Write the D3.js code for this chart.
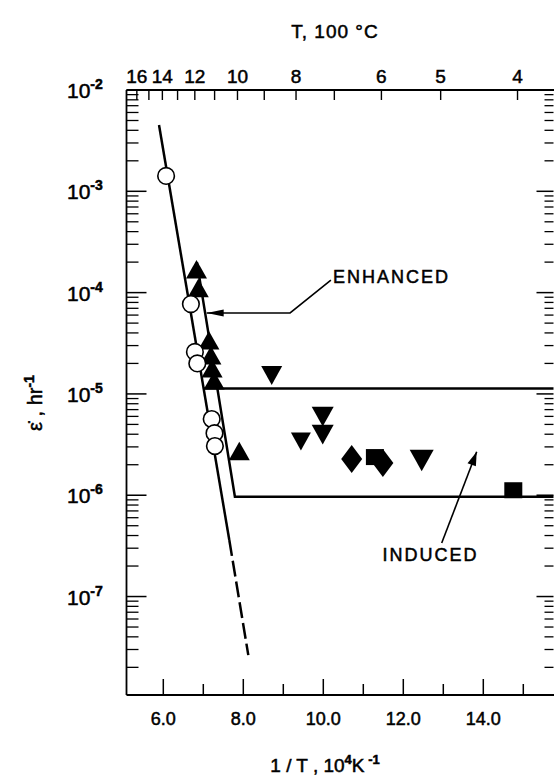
<!DOCTYPE html>
<html><head><meta charset="utf-8">
<script src="https://cdn.jsdelivr.net/npm/d3@7"></script>
<style>
html,body{margin:0;padding:0;background:#fff;}
svg text{font-family:"Liberation Sans",Arial,sans-serif;fill:#000;stroke:#000;stroke-width:0.5px;}
</style></head>
<body><div id="chart"></div>
<script>
// ---- data ----
const bottomMajorTicks = [6, 8, 10, 12, 14];
const bottomMinorTicks = [7, 9, 11, 13, 15];
const topTempTicks = [4, 5, 6, 7, 8, 9, 10, 11, 12, 13, 14, 15, 16];   // T, 100 °C
const topTempLabels = [16, 14, 12, 10, 8, 6, 5, 4];
const yDecades = [-2, -3, -4, -5, -6, -7];

// open circles
const circleX = [6.07, 6.69, 6.79, 6.85, 7.21, 7.28, 7.29];
const circleY = [1.42e-3, 7.7e-5, 2.6e-5, 2.0e-5, 5.65e-6, 4.1e-6, 3.06e-6];
// filled up-triangles
const upTriX = [6.83, 6.875, 7.14, 7.19, 7.22, 7.27, 7.90];
const upTriY = [1.67e-4, 1.09e-4, 3.33e-5, 2.37e-5, 1.76e-5, 1.34e-5, 2.68e-6];
// filled down-triangles
const downTriX = [8.71, 9.44, 9.985, 9.985, 12.46];
const downTriY = [1.54e-5, 3.43e-6, 6.05e-6, 4.02e-6, 2.23e-6];
// filled diamonds
const diamondX = [10.71, 11.49];
const diamondY = [2.28e-6, 2.08e-6];
// filled squares
const squareX = [11.29, 14.75];
const squareY = [2.38e-6, 1.12e-6];

// fitted lines
const line1Solid = [[5.893, 4.51e-3], [7.65, 3.61e-7]];
const line1Dashed = [[7.65, 3.61e-7], [8.125, 2.64e-8]];
const line2 = [[6.84, 2.0e-4], [7.79, 9.66e-7], [15.755, 9.66e-7]];
const upperLevel = [[7.0, 1.13e-5], [15.755, 1.13e-5]];

// annotations
const enhancedLeader = [[7.085, 6.3e-5], [9.17, 6.3e-5], [10.19, 1.33e-4]];
const enhancedLabel = {text: "ENHANCED", x: 10.24, y: 1.24e-4};
const inducedArrow = [[12.96, 3.37e-7], [13.835, 2.69e-6]];
const inducedLabel = {text: "INDUCED", x: 12.68, y: 2.24e-7};

// ---- layout ----
const W = 554, H = 782;
const L = 126.5, R = 553.5, T = 90, B = 695;

const svg = d3.select("#chart").append("svg").attr("width", W).attr("height", H);

const x = d3.scaleLinear().domain([5.08, 15.755]).range([L, R]);
const y = d3.scaleLog().domain([Math.pow(10, -7.972), 1e-2]).range([B, T]);

const g = svg.append("g");

// axes frame
g.append("line").attr("x1", L).attr("x2", L).attr("y1", T).attr("y2", B).attr("stroke", "#000").attr("stroke-width", 1.8);
g.append("line").attr("x1", L).attr("x2", R + 1).attr("y1", B).attr("y2", B).attr("stroke", "#000").attr("stroke-width", 1.8);
g.append("line").attr("x1", L).attr("x2", R + 1).attr("y1", T).attr("y2", T).attr("stroke", "#000").attr("stroke-width", 1.8);

// y ticks (left and right)
const yMinor = [];
for (let d = -8; d <= -3; d++) for (let m = 2; m <= 9; m++) {
  const v = m * Math.pow(10, d);
  if (v >= y.domain()[0] && v <= y.domain()[1]) yMinor.push(v);
}
const yMajorVals = yDecades.map(d => Math.pow(10, d));
g.selectAll(".ylmaj").data(yMajorVals).enter().append("line")
  .attr("x1", L).attr("x2", L + 20).attr("y1", d => y(d)).attr("y2", d => y(d))
  .attr("stroke", "#000").attr("stroke-width", 1.5);
g.selectAll(".ylmin").data(yMinor).enter().append("line")
  .attr("x1", L).attr("x2", L + 12).attr("y1", d => y(d)).attr("y2", d => y(d))
  .attr("stroke", "#000").attr("stroke-width", 1.3);
g.selectAll(".yrmaj").data(yMajorVals).enter().append("line")
  .attr("x1", R - 17).attr("x2", R).attr("y1", d => y(d)).attr("y2", d => y(d))
  .attr("stroke", "#000").attr("stroke-width", 1.5);
g.selectAll(".yrmin").data(yMinor).enter().append("line")
  .attr("x1", R - 9).attr("x2", R).attr("y1", d => y(d)).attr("y2", d => y(d))
  .attr("stroke", "#000").attr("stroke-width", 1.3);

// y labels
const yl = g.selectAll(".ylab").data(yDecades).enter().append("text")
  .attr("x", 67).attr("y", d => y(Math.pow(10, d)) + 8)
  .attr("font-size", 21);
yl.append("tspan").text("10");
yl.append("tspan").attr("dy", -9).attr("font-size", 14).attr("font-weight", "bold").text(d => "-" + (-d));

// bottom ticks
g.selectAll(".bmaj").data(bottomMajorTicks).enter().append("line")
  .attr("x1", d => x(d)).attr("x2", d => x(d)).attr("y1", B).attr("y2", B - 16)
  .attr("stroke", "#000").attr("stroke-width", 1.5);
g.selectAll(".bmin").data(bottomMinorTicks).enter().append("line")
  .attr("x1", d => x(d)).attr("x2", d => x(d)).attr("y1", B).attr("y2", B - 11)
  .attr("stroke", "#000").attr("stroke-width", 1.5);
g.selectAll(".blab").data(bottomMajorTicks).enter().append("text")
  .attr("x", d => x(d)).attr("y", 725).attr("text-anchor", "middle")
  .attr("font-size", 18).text(d => d.toFixed(1));

// top ticks: T in 100 °C -> 1/T in 1e-4 K^-1
const invT = t => 1e4 / (t * 100 + 273.15);
g.selectAll(".tt").data(topTempTicks).enter().append("line")
  .attr("x1", d => x(invT(d))).attr("x2", d => x(invT(d))).attr("y1", T).attr("y2", T + 10)
  .attr("stroke", "#000").attr("stroke-width", 1.4);
g.selectAll(".tlab").data(topTempLabels).enter().append("text")
  .attr("x", d => x(invT(d))).attr("y", 83).attr("text-anchor", "middle")
  .attr("font-size", 19).text(d => d);

// titles
svg.append("text").attr("x", 335).attr("y", 38).attr("text-anchor", "middle")
  .attr("font-size", 19).attr("letter-spacing", 1).text("T,  100 °C");
const xt = svg.append("text").attr("x", 325).attr("y", 772).attr("text-anchor", "middle").attr("font-size", 19);
xt.append("tspan").text("1 / T , 10");
xt.append("tspan").attr("dy", -8).attr("font-size", 13).attr("font-weight", "bold").text("4");
xt.append("tspan").attr("dy", 8).text("K");
xt.append("tspan").attr("dy", -8).attr("font-size", 13).attr("font-weight", "bold").text(" -1");
const yt = svg.append("text").attr("transform", "translate(42,403) rotate(-90)")
  .attr("text-anchor", "middle").attr("font-size", 20);
yt.append("tspan").text("ε\u0307 , hr");
yt.append("tspan").attr("dy", -8).attr("font-size", 14).attr("font-weight", "bold").text("-1");

// lines
const lineGen = d3.line().x(d => x(d[0])).y(d => y(d[1]));
g.append("path").attr("d", lineGen(line1Solid)).attr("fill", "none").attr("stroke", "#000").attr("stroke-width", 2.5);
g.append("path").attr("d", lineGen(line1Dashed)).attr("fill", "none").attr("stroke", "#000").attr("stroke-width", 2.5)
  .attr("stroke-dasharray", "16,5");
g.append("path").attr("d", lineGen(line2)).attr("fill", "none").attr("stroke", "#000").attr("stroke-width", 2.5);
g.append("path").attr("d", lineGen(upperLevel)).attr("fill", "none").attr("stroke", "#000").attr("stroke-width", 2.5);

// markers
const zip = (xs, ys) => xs.map((v, i) => [v, ys[i]]);
g.selectAll(".upt").data(zip(upTriX, upTriY)).enter().append("path")
  .attr("d", d => { const cx = x(d[0]), cy = y(d[1]); return `M${cx},${cy - 10}L${cx + 10.5},${cy + 8.5}L${cx - 10.5},${cy + 8.5}Z`; })
  .attr("fill", "#000");
const dSize = [10.5, 10, 11, 11, 12];
g.selectAll(".dnt").data(zip(downTriX, downTriY)).enter().append("path")
  .attr("d", (d, i) => { const cx = x(d[0]), cy = y(d[1]), s = dSize[i]; return `M${cx - s},${cy - s * 0.85}L${cx + s},${cy - s * 0.85}L${cx},${cy + s * 0.95}Z`; })
  .attr("fill", "#000");
g.selectAll(".dia").data(zip(diamondX, diamondY)).enter().append("path")
  .attr("d", d => { const cx = x(d[0]), cy = y(d[1]); return `M${cx},${cy - 14}L${cx + 10.5},${cy}L${cx},${cy + 14}L${cx - 10.5},${cy}Z`; })
  .attr("fill", "#000");
g.selectAll(".sq").data(zip(squareX, squareY)).enter().append("rect")
  .attr("x", d => x(d[0]) - 9).attr("y", d => y(d[1]) - 8).attr("width", 18).attr("height", 16)
  .attr("fill", "#000");
g.selectAll(".circ").data(zip(circleX, circleY)).enter().append("circle")
  .attr("cx", d => x(d[0])).attr("cy", d => y(d[1])).attr("r", 8.3)
  .attr("fill", "#fff").attr("stroke", "#000").attr("stroke-width", 1.6);

// annotations
function arrowHead(p0, p1, len, hw) {
  const dx = p1[0] - p0[0], dy = p1[1] - p0[1], n = Math.hypot(dx, dy);
  const ux = dx / n, uy = dy / n, bx = p1[0] - ux * len, by = p1[1] - uy * len;
  return `M${p1[0]},${p1[1]}L${bx - uy * hw},${by + ux * hw}L${bx + uy * hw},${by - ux * hw}Z`;
}
g.append("path").attr("d", lineGen(enhancedLeader)).attr("fill", "none").attr("stroke", "#000").attr("stroke-width", 1.6);
{
  const p1 = [x(enhancedLeader[0][0]), y(enhancedLeader[0][1])];
  const p0 = [x(enhancedLeader[1][0]), y(enhancedLeader[1][1])];
  g.append("path").attr("d", arrowHead(p0, p1, 17, 3.5)).attr("fill", "#000");
}
g.append("text").attr("x", x(enhancedLabel.x)).attr("y", y(enhancedLabel.y))
  .attr("font-size", 18).attr("letter-spacing", 2).text(enhancedLabel.text);

g.append("path").attr("d", lineGen(inducedArrow)).attr("fill", "none").attr("stroke", "#000").attr("stroke-width", 1.6);
{
  const p0 = [x(inducedArrow[0][0]), y(inducedArrow[0][1])];
  const p1 = [x(inducedArrow[1][0]), y(inducedArrow[1][1])];
  g.append("path").attr("d", arrowHead(p0, p1, 14, 4.5)).attr("fill", "#000");
}
g.append("text").attr("x", x(inducedLabel.x)).attr("y", y(inducedLabel.y)).attr("text-anchor", "middle")
  .attr("font-size", 18).attr("letter-spacing", 2).text(inducedLabel.text);
</script>
</body></html>
